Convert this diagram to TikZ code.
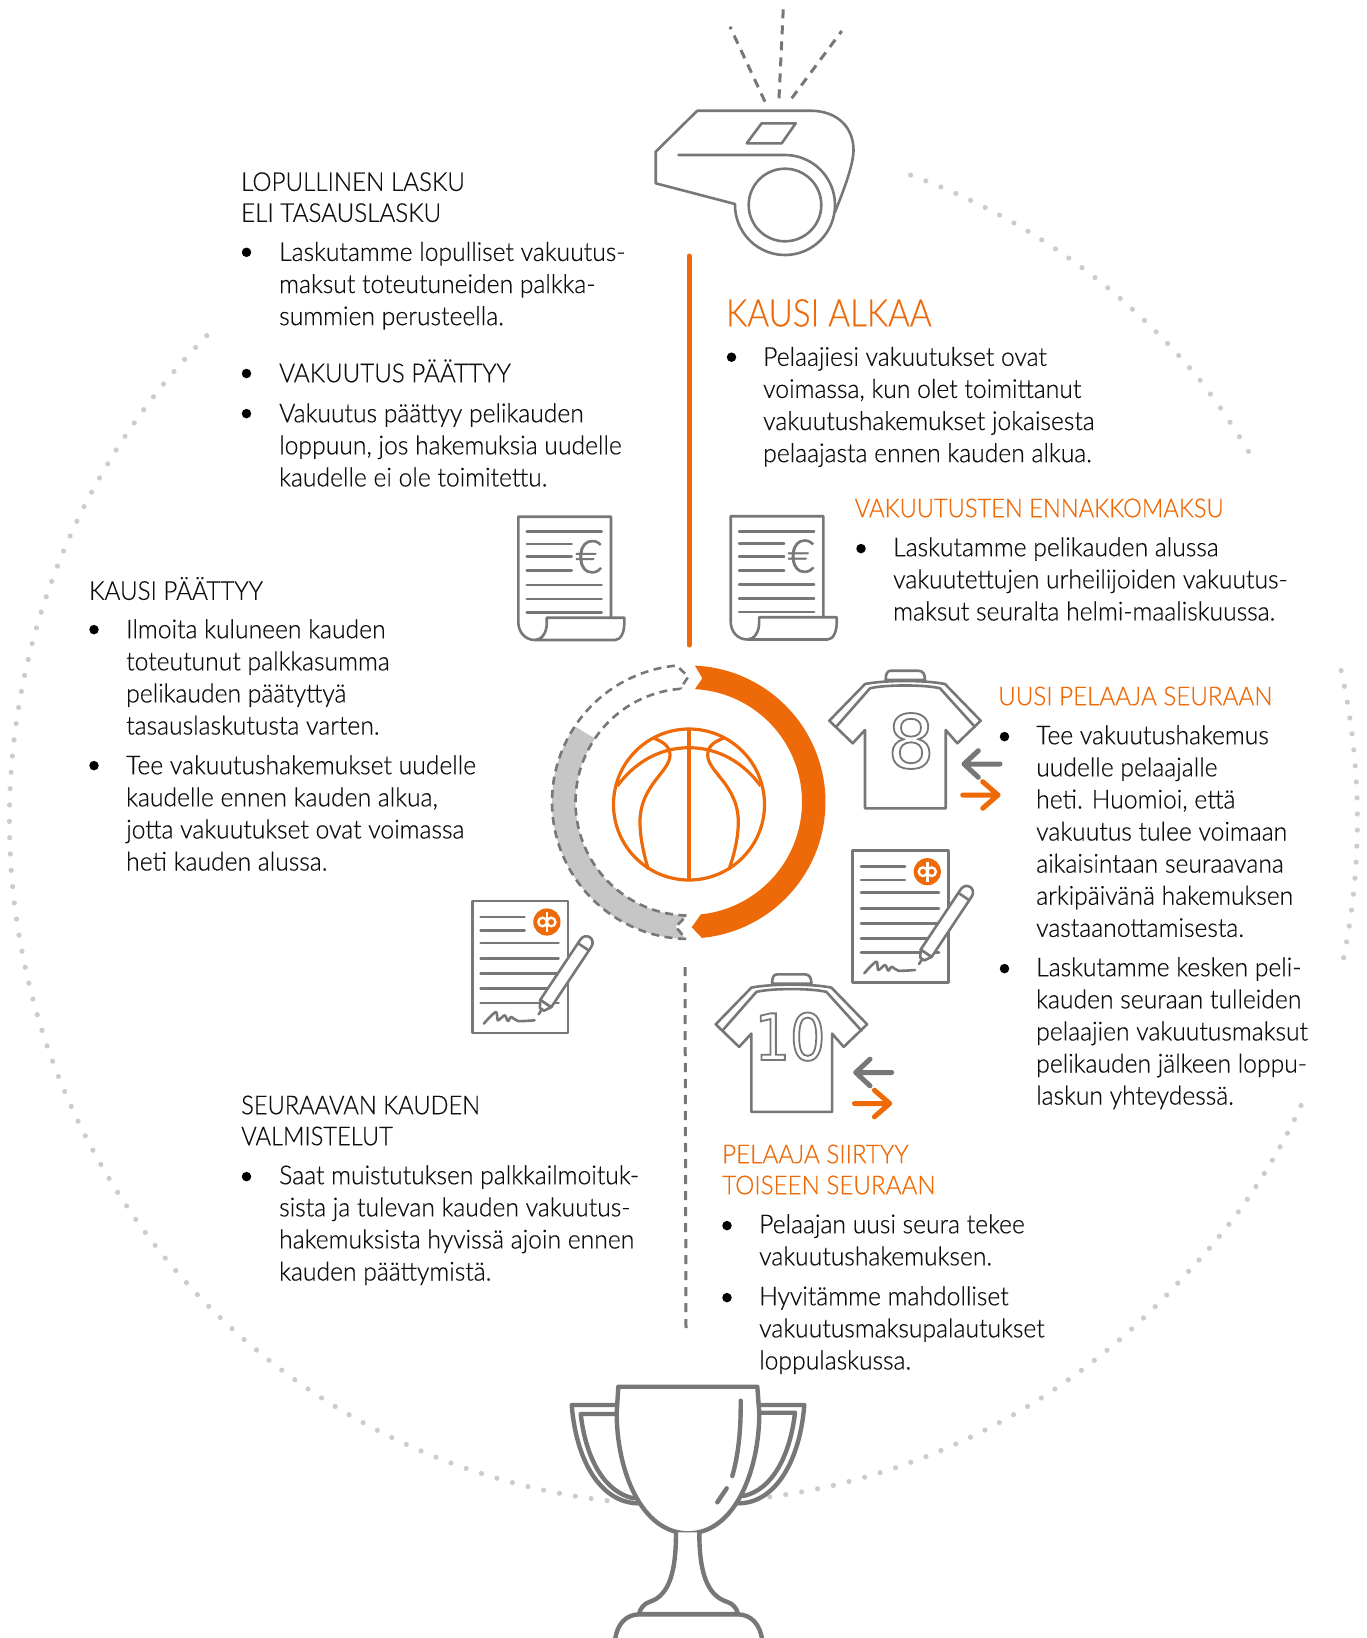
\documentclass[tikz,border=0pt]{standalone}
\usepackage{fontspec}
\setmainfont{Lato Light}[FakeStretch=0.95,FakeBold=0.5]
\newfontfamily\headf{Lato Light}[FakeStretch=0.93,FakeBold=0.5]
\newfontfamily\headn{Lato Light}[FakeStretch=0.91,FakeBold=0.5]
\newfontfamily\titlef{Lato Light}[FakeStretch=0.875,FakeBold=0.5]
\newfontfamily\eurof{Lato Light}[FakeBold=1.5]
\newfontfamily\numfont{DejaVu Sans}
\newfontfamily\numnar{DejaVu Sans}[FakeStretch=0.87]
\definecolor{ink}{HTML}{0F0F0F}
\definecolor{opor}{HTML}{EE6A08}
\definecolor{icon}{HTML}{777777}
\definecolor{dotc}{HTML}{CCCCCC}
\definecolor{band}{HTML}{C6C6C6}
\newcommand\fs{\rule{0pt}{24pt}}
\newcommand\outl[2]{\special{pdf:literal direct 1 Tr #1 w}#2\special{pdf:literal direct 0 Tr}}
\tikzset{
 txt/.style={anchor=north west,inner sep=0pt,align=left,yshift=24pt,text=ink,font=\fontsize{26}{32.1}\selectfont},
 head/.style={txt,font=\headf\fontsize{26}{31}\selectfont},
 ohead/.style={head,text=opor},
 bul/.style={circle,fill=black,inner sep=0pt,minimum size=9.5pt},
 ico/.style={draw=icon,line width=2.6pt,line join=round,line cap=round},
 dotfill/.style={fill=dotc,draw=none}
}
\newcommand\invoiceicon{
 \draw[ico] (611,617.7) -- (611,516.7) -- (518.3,516.7) -- (518.3,622) .. controls (518.3,632) and (525,640) .. (535,640);
 \path[ico,fill=white] (546.7,617.7) -- (624.3,617.7) -- (624.3,623) .. controls (624.3,632) and (621,640) .. (615,640) -- (535,640) .. controls (542,640) and (546.7,632) .. (546.7,624) -- cycle;
 \foreach \y in {531.7,585,599,612.3} \draw[ico] (526.7,\y) -- (601.7,\y);
 \foreach \y in {544,556.7,570.7} \draw[ico] (526.7,\y) -- (571.7,\y);
}
\newcommand\shirticon{
 \path[ico,fill=white] (885.7,680) .. controls (885.7,674) and (887,670.7) .. (891,670.7) -- (918,670.7) .. controls (923,670.7) and (925,674) .. (925,680) -- cycle;
 \path[ico,fill=white] (865,684) .. controls (885,680) and (925,680) .. (945,684) -- (980.7,720.7) -- (957.3,743.3) -- (945.7,730) -- (945.7,808.3) -- (865,808.3) -- (865,730) -- (852.7,743.3) -- (829.3,720.7) -- cycle;
 \draw[ico] (836,727) -- (870,688.3) .. controls (885,684.5) and (925,684.5) .. (940,688.3) -- (975,727);
}
\newcommand\arrowpair{
 \draw[draw=icon,line width=5pt,line cap=round,line join=round] (1000,764) -- (964,764) (978.3,750.7) -- (964,764) -- (978.3,777.3);
 \draw[draw=opor,line width=5pt,line cap=round,line join=round] (962.7,795) -- (998,795) (982.7,781.7) -- (998,795) -- (982.7,808.3);
}
\newcommand\docicon{
 \draw[ico,fill=white] (852.7,850.7) rectangle (948.3,982.7);
 \foreach \y in {866.7,880} \draw[ico] (861,\y) -- (905,\y);
 \foreach \y in {892.7,908.3,923.3,938.3,952.7} \draw[ico] (861,\y) -- (939,\y);
 \fill[opor] (927.3,871.7) circle[radius=13.6];
 \draw[white,line width=2.3pt] (923,871.7) circle[radius=4.3] (931.6,871.7) circle[radius=4.3];
 \draw[white,line width=2.6pt] (927.3,861.7) -- (927.3,881.7);
 \draw[ico] plot[smooth] coordinates {(864.3,973.3) (870,967) (876.7,961.7) (878.3,970) (885,965) (888.3,970.7) (891.7,966.7) (898.3,970.7) (915,970)};
 \begin{scope}[shift={(919,964)},rotate=56.4]
  \draw[ico] (0,0) -- (6,0);
  \path[ico,fill=white] (6,-2.5) -- (13,-6.6) -- (13,6.6) -- (6,2.5) -- cycle;
  \path[ico,fill=white] (13,-6.6) -- (85,-6.6) .. controls (95,-6.6) and (95,6.6) .. (85,6.6) -- (13,6.6) -- cycle;
  \draw[ico] (81,-6.6) -- (81,6.6);
 \end{scope}
}
\begin{document}
\begin{tikzpicture}[x=1pt,y=-1pt]
\useasboundingbox (0,0) rectangle (1366,1638);
% dotted ring
\foreach \t in {-70.3,-68.92,...,-32.9}
  \fill[dotfill] ({683.4+674*cos(\t)},{820+685*sin(\t)+0.7*max(0,\t+40)}) circle[radius=2.6];
\foreach \t in {-12.6,-11.256,...,11.7}
  \fill[dotfill] ({683.4+674*cos(\t)},{820+685*sin(\t)}) circle[radius=2.6];
\foreach \t in {23.6,24.973,...,84.1}
  \fill[dotfill] ({683.4+674*cos(\t)},{817.5+685*sin(\t)+0.75*max(0,42-\t)}) circle[radius=2.6];
\foreach \t in {96.5,97.867,...,225.1}
  \fill[dotfill] ({683.4+674*cos(\t)},{820+685*sin(\t)}) circle[radius=2.6];
% shirts first
\shirticon
\node[text=icon,inner sep=0pt,font=\numfont\fontsize{74}{74}\selectfont] (num8) at (911,741) {\outl{1.8}{8}};
\arrowpair
\begin{scope}[shift={(-113.6,303.6)}]\shirticon\end{scope}
\node[text=icon,inner sep=0pt,font=\numnar\fontsize{64}{64}\selectfont] (num10) at (790,1036.7) {\outl{1.8}{10}};
\begin{scope}[shift={(-108.3,308.5)}]\arrowpair\end{scope}
% whistle
\draw[icon,line width=3pt,dash pattern=on 9pt off 7pt] (779,98.3) -- (783.3,8);
\draw[icon,line width=3pt,dash pattern=on 9pt off 7pt] (765,101.7) -- (730,26.7);
\draw[icon,line width=3pt,dash pattern=on 9pt off 7pt] (791.7,98.3) -- (841.7,31);
\draw[ico] (697.3,110.7) -- (810,110.7) .. controls (838,110.7) and (853.5,128) .. (853.5,150) .. controls (853.5,165) and (843,192) .. (835,212);
\draw[ico] (697.3,110.7) -- (655.7,151.7) -- (655.7,183.3) -- (735,204) -- plot[domain=180:-90,samples=60] ({785+50*cos(\x)},{205+50*sin(\x)}) -- (678.3,155);
\draw[ico] (785,205) circle[radius=36.3];
\draw[ico] (761.7,123.3) -- (795.7,123.3) -- (781.7,143.3) -- (746.7,143.3) -- cycle;
% orange stem
\draw[opor,line width=5pt,line cap=round] (689,256) -- (689,645);
% invoices
\invoiceicon
\begin{scope}[shift={(212.4,-0.5)}]\invoiceicon\end{scope}
\node[text=icon,font=\eurof\fontsize{46}{46}\selectfont,inner sep=0pt] (euroa) at (589,556.7) {€};
\node[text=icon,font=\eurof\fontsize{46}{46}\selectfont,inner sep=0pt] (eurob) at (801.4,556.2) {€};
% ring
\fill[band] plot[domain=91.3:213.5,samples=60] ({689+137*cos(\x)},{802+137*sin(\x)}) -- plot[domain=214:91,samples=60] ({689+113.5*cos(\x)},{802+113.5*sin(\x)}) -- (675.7,926.7) -- cycle;
\draw[icon,line width=2.6pt,dash pattern=on 8pt off 5.5pt] plot[domain=91.3:264.8,samples=100] ({689+137*cos(\x)},{802+137*sin(\x)}) -- (688.3,676.7) -- (680,689) -- plot[domain=265.5:91,samples=100] ({689+113.5*cos(\x)},{802+113.5*sin(\x)}) -- (675.7,926.7) -- cycle;
\fill[opor] plot[domain=-87.5:84.6,samples=100] ({689+136.5*cos(\x)},{802+136.5*sin(\x)}) -- (691.7,927.3) -- plot[domain=84:-87,samples=100] ({689+113*cos(\x)},{802+113*sin(\x)}) -- (702.3,678.3) -- cycle;
% ball
\begin{scope}[line width=3.2pt]
\draw[opor] (689,804.5) circle[radius=75.5];
\draw[opor] (689,729) -- (689,880);
\draw[opor] (617.3,786) .. controls (635,762) and (660,747.7) .. (689,747.7) .. controls (718,747.7) and (743,762) .. (760.7,786);
\draw[opor] (654,738.3) .. controls (664,742) and (670,747) .. (670,755) .. controls (670,772) and (640,785) .. (640,822) .. controls (640,840) and (645,858) .. (648.3,869.3);
\draw[opor] (723.3,738.3) .. controls (713,742) and (707.7,747) .. (707.7,755) .. controls (707.7,772) and (738.3,785) .. (738.3,822) .. controls (738.3,840) and (733,858) .. (729,869.3);
\end{scope}
% documents
\docicon
\begin{scope}[shift={(-380.4,50.3)}]\docicon\end{scope}
% dashed stem
\draw[icon,line width=3pt,dash pattern=on 9pt off 7pt] (685,967) -- (686,1329);
% trophy
\begin{scope}[line width=4.4pt,draw=icon,line join=round,line cap=round]
\path[draw=icon,fill=white] (616.7,1405) -- (571.7,1405) .. controls (576,1460) and (600,1502) .. (637.3,1503.3) -- (640,1503);
\draw[icon] (616.7,1414) -- (580.7,1414) .. controls (586,1460) and (605,1492) .. (633.3,1498.3);
\path[draw=icon,fill=white] (759.3,1405) -- (804.3,1405) .. controls (800,1460) and (776,1502) .. (740,1503.3) -- (737,1503);
\draw[icon] (759.3,1412.7) -- (795,1412.7) .. controls (790,1456) and (772,1490) .. (743.3,1496);
\path[draw=icon,fill=white] (618.3,1386.7) -- (757.3,1386.7) -- (759.3,1413) .. controls (759.3,1470) and (735,1533.3) .. (688.3,1533.3) .. controls (641,1533.3) and (616.7,1470) .. (616.7,1413) -- cycle;
\draw[icon] (740.7,1400.7) .. controls (741,1432) and (738,1456) .. (732.3,1476);
\draw[icon] (726.7,1488.3) -- (717.3,1502.3);
\path[draw=icon,fill=white] (676,1532.3) .. controls (676,1570) and (670,1595) .. (650,1601.7) .. controls (645,1603) and (640,1608) .. (639,1614) -- (738,1614) .. controls (737,1608) and (732,1603) .. (726.7,1601.7) .. controls (706,1595) and (699.3,1570) .. (699.3,1532.3);
\draw[icon] (615,1640) .. controls (617,1625) and (625,1614.3) .. (640,1614.3) -- (737,1614.3) .. controls (752,1614.3) and (760,1625) .. (762.3,1640);
\end{scope}
% texts
\node[head] (h1) at (241,190.7) {\fs LOPULLINEN LASKU\\ELI TASAUSLASKU};
\node[bul] (b1) at (246.5,252.3) {};
\node[txt] (t1) at (279,260.7) {\fs Laskutamme lopulliset vakuutus-\\maksut toteutuneiden palkka-\\summien perusteella.};
\node[bul] (b2) at (246.5,373.5) {};
\node[head] (t2) at (279,382) {\fs VAKUUTUS PÄÄTTYY};
\node[bul] (b3) at (246.5,413.6) {};
\node[txt] (t3) at (279,422) {\fs Vakuutus päättyy pelikauden\\loppuun, jos hakemuksia uudelle\\kaudelle ei ole toimitettu.};
\node[ohead,font=\titlef\fontsize{38}{40}\selectfont] (h2) at (726,323) {\fs KAUSI ALKAA};
\node[bul] (b4) at (731.5,357.2) {};
\node[txt] (t4) at (763,365.6) {\fs Pelaajiesi vakuutukset ovat\\voimassa, kun olet toimittanut\\vakuutushakemukset jokaisesta\\pelaajasta ennen kauden alkua.};
\node[ohead,font=\headn\fontsize{26}{31}\selectfont] (h3) at (854.5,517) {\fs VAKUUTUSTEN ENNAKKOMAKSU};
\node[bul] (b5) at (861,548.6) {};
\node[txt] (t5) at (893,556) {\fs Laskutamme pelikauden alussa\\vakuutettujen urheilijoiden vakuutus-\\maksut seuralta helmi-maaliskuussa.};
\node[head] (h4) at (89,599.6) {\fs KAUSI PÄÄTTYY};
\node[bul] (b6) at (94,629.6) {};
\node[txt] (t6) at (126,638) {\fs Ilmoita kuluneen kauden\\toteutunut palkkasumma\\pelikauden päätyttyä\\tasauslaskutusta varten.};
\node[bul] (b7) at (94,765.6) {};
\node[txt] (t7) at (126,774) {\fs Tee vakuutushakemukset uudelle\\kaudelle ennen kauden alkua,\\jotta vakuutukset ovat voimassa\\heti kauden alussa.};
\node[ohead] (h5) at (998,705) {\fs UUSI PELAAJA SEURAAN};
\node[bul] (b8) at (1004.5,736.6) {};
\node[txt] (t8) at (1036,744) {\fs Tee vakuutushakemus\\uudelle pelaajalle\\heti. Huomioi, että\\vakuutus tulee voimaan\\aikaisintaan seuraavana\\arkipäivänä hakemuksen\\vastaanottamisesta.};
\node[bul] (b9) at (1004.5,968.6) {};
\node[txt] (t9) at (1036,976) {\fs Laskutamme kesken peli-\\kauden seuraan tulleiden\\pelaajien vakuutusmaksut\\pelikauden jälkeen loppu-\\laskun yhteydessä.};
\node[head,font=\headn\fontsize{26}{31}\selectfont] (h6) at (241,1114) {\fs SEURAAVAN KAUDEN\\VALMISTELUT};
\node[bul] (b10) at (246.5,1176.6) {};
\node[txt] (t10) at (279,1184) {\fs Saat muistutuksen palkkailmoituk-\\sista ja tulevan kauden vakuutus-\\hakemuksista hyvissä ajoin ennen\\kauden päättymistä.};
\node[ohead] (h7) at (722,1163) {\fs PELAAJA SIIRTYY\\TOISEEN SEURAAN};
\node[bul] (b11) at (727,1225.6) {};
\node[txt] (t11) at (759,1233) {\fs Pelaajan uusi seura tekee\\vakuutushakemuksen.};
\node[bul] (b12) at (727,1297.6) {};
\node[txt] (t12) at (759,1305) {\fs Hyvitämme mahdolliset\\vakuutusmaksupalautukset\\loppulaskussa.};
\end{tikzpicture}
\end{document}
